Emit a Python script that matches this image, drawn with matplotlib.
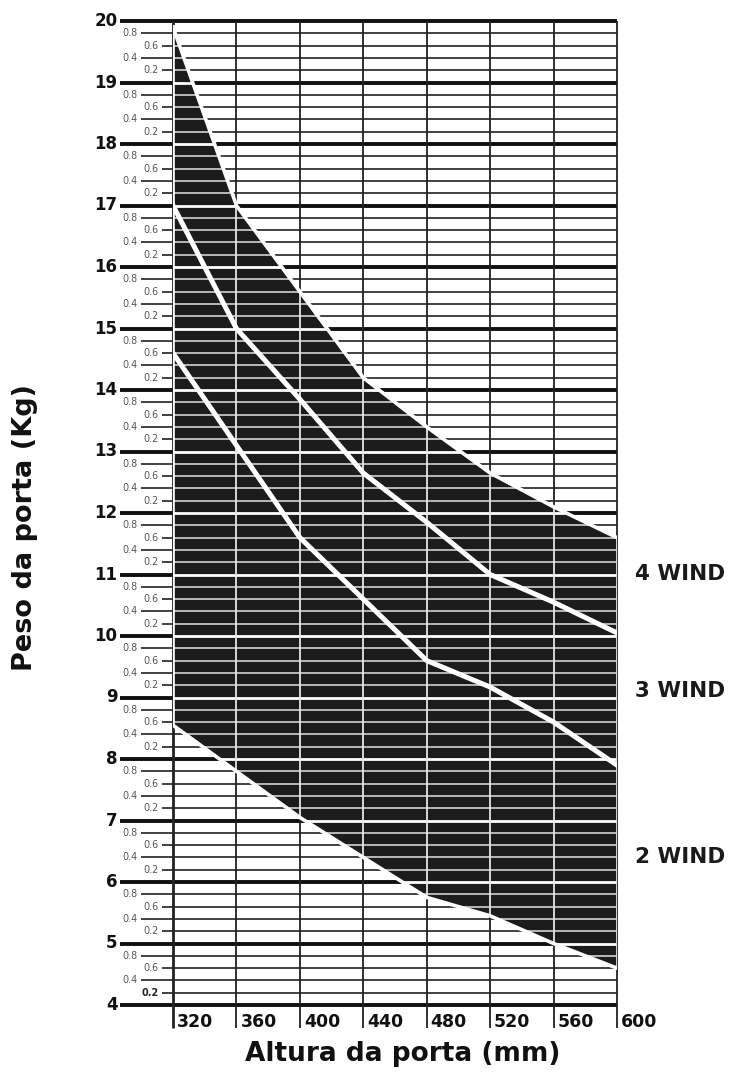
import numpy as np
import matplotlib
matplotlib.use('Agg')
import matplotlib.pyplot as plt
from matplotlib.patches import Polygon

# Data
heights = [320, 360, 400, 440, 480, 520, 560, 600]
top_4wind = [19.9, 17.0, 15.6, 14.2, 13.4, 12.65, 12.1, 11.6]
sep_3_4 = [17.0, 15.0, 13.85, 12.65, 11.85, 11.0, 10.55, 10.05]
sep_2_3 = [14.6, 13.1, 11.6, 10.6, 9.6, 9.17, 8.6, 7.9]
bottom_2wind = [8.55, 7.8, 7.05, 6.4, 5.75, 5.45, 5.0, 4.6]
x_ticks = [320, 360, 400, 440, 480, 520, 560, 600]
major_kg = list(range(4, 21))
minor_frac = [0.2, 0.4, 0.6, 0.8]
wind_labels = ["4 WIND", "3 WIND", "2 WIND"]
wind_label_y = [11.0, 9.1, 6.4]

font = 'DejaVu Sans'
dark = '#1c1c1c'

fig = plt.figure(figsize=(7.35, 10.75), dpi=100)
ax = fig.add_axes([173/735, 70/1075, 444/735, 984/1075])
ax.set_xlim(320, 600)
ax.set_ylim(4, 20)
ax.axis('off')

# offsets to the left of the plot (mm units)
x_major = 286.6
x_minor_long = 299.8
x_minor_short = 313.1
x_tick_bottom = 3.63

# outside grid (black)
for k in major_kg:
    ax.plot([x_major, 600], [k, k], color='#111111', lw=2.8, clip_on=False, zorder=1,
            solid_capstyle='butt')
    ax.text(x_major - 1.6, k, str(k), ha='right', va='center', fontsize=12,
            fontweight='bold', family=font, color='#111111')
    if k == 20:
        continue
    for f in minor_frac:
        y = k + f
        xs = x_minor_long if f in (0.4, 0.8) else x_minor_short
        ax.plot([xs, 600], [y, y], color='#333333', lw=1.3, clip_on=False, zorder=1,
                solid_capstyle='butt')
        bold = (k == 4 and f == 0.2)
        ax.text(xs - 2.3, y, ('%.1f' % f), ha='right', va='center',
                fontsize=6.9,
                fontweight='bold' if bold else 'normal',
                family=font, color='#222222' if bold else '#555555')

for x in x_ticks:
    ax.plot([x, x], [x_tick_bottom, 20], color='#222222', lw=2.0 if x == 320 else 1.3,
            clip_on=False, zorder=1, solid_capstyle='butt')
    ax.text(x + 2.5, 3.72, str(x), ha='left', va='center', fontsize=12.5,
            fontweight='bold', family=font, color='#111111')

# dark region between top and bottom curves
poly_pts = list(zip(heights, top_4wind)) + list(zip(heights[::-1], bottom_2wind[::-1]))
poly = Polygon(poly_pts, closed=True, facecolor=dark, edgecolor='none', zorder=2)
ax.add_patch(poly)

# light grid inside the dark region
for k in major_kg:
    ln, = ax.plot([320, 600], [k, k], color='white', lw=2.0, zorder=3)
    ln.set_clip_path(poly)
    for f in minor_frac:
        if k + f >= 20:
            continue
        ln, = ax.plot([320, 600], [k + f, k + f], color='#c4c4c4', lw=1.3, zorder=3)
        ln.set_clip_path(poly)
for x in x_ticks:
    ln, = ax.plot([x, x], [4, 20], color='#e6e6e6', lw=1.3, zorder=3)
    ln.set_clip_path(poly)

# white outlines and separators
ax.plot(heights, top_4wind, color='white', lw=2.6, zorder=4, solid_joinstyle='miter')
ax.plot(heights, bottom_2wind, color='white', lw=2.6, zorder=4, solid_joinstyle='miter')
ax.plot([320, 320], [bottom_2wind[0], top_4wind[0]], color='white', lw=2.6, zorder=4)
ax.plot(heights, sep_3_4, color='white', lw=3.6, zorder=5, solid_joinstyle='miter')
ax.plot(heights, sep_2_3, color='white', lw=3.6, zorder=5, solid_joinstyle='miter')

for lab, y in zip(wind_labels, wind_label_y):
    ax.text(611.4, y, lab, ha='left', va='center', fontsize=15.5, fontweight='bold',
            family=font, color='#1a1a1a')

fig.text(0.548, 0.0195, "Altura da porta (mm)", ha='center', va='center',
         fontsize=19, fontweight='bold', family=font, color='#111111')
fig.text(0.034, 0.509, "Peso da porta (Kg)", ha='center', va='center', rotation=90,
         fontsize=19.5, fontweight='bold', family=font, color='#111111')

plt.savefig('out.png', dpi=100, facecolor='white')
